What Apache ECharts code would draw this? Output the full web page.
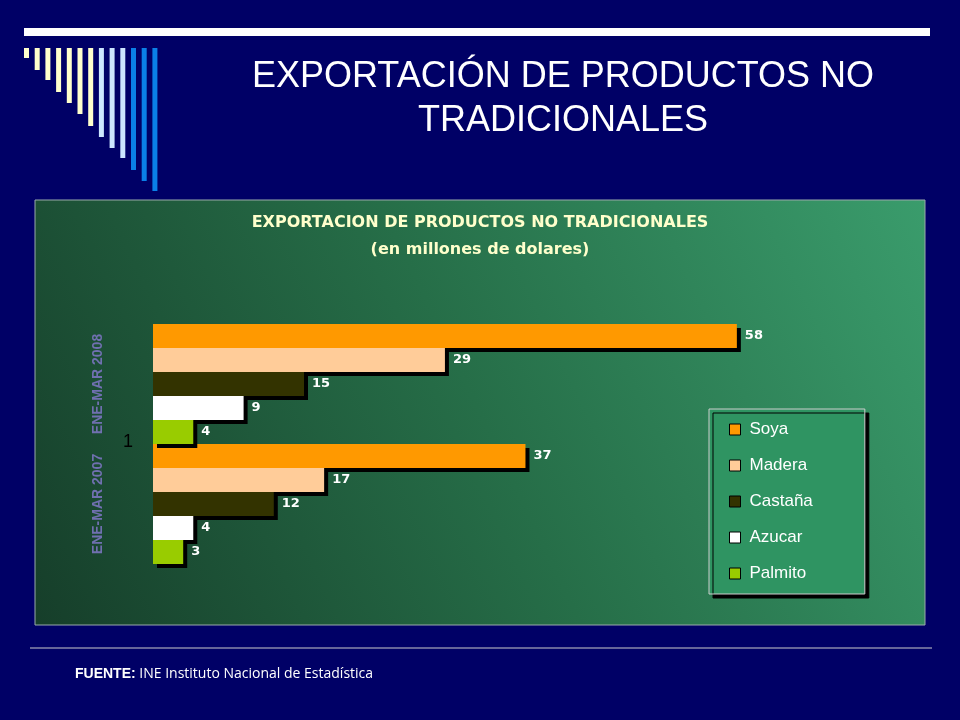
<!DOCTYPE html>
<html>
<head>
<meta charset="utf-8">
<script src="https://cdn.jsdelivr.net/npm/echarts@6/dist/echarts.min.js"></script>
<style>
  html, body { margin: 0; padding: 0; background: #000066; }
  #main { width: 960px; height: 720px; }
</style>
</head>
<body>
<div id="main"></div>
<script>
// datos (millones de dolares)
var periodos = ['ENE-MAR 2008', 'ENE-MAR 2007'];
var productos = ['Soya', 'Madera', 'Castaña', 'Azucar', 'Palmito'];
var soya = [58, 37];
var madera = [29, 17];
var castana = [15, 12];
var azucar = [9, 4];
var palmito = [4, 3];
var colores = ['#ff9900', '#ffcc99', '#333300', '#ffffff', '#99cc00'];

var valores = [soya, madera, castana, azucar, palmito];

var series = productos.map(function (p, i) {
    return {
        name: p,
        type: 'bar',
        data: valores[i],
        barGap: '0%',
        barCategoryGap: '0%',
        itemStyle: {
            color: colores[i],
            borderWidth: 0,
            shadowColor: '#000',
            shadowOffsetX: 4,
            shadowOffsetY: 4,
            shadowBlur: 0
        },
        label: {
            show: true,
            position: 'right',
            distance: 8,
            color: '#fff',
            fontWeight: 'bold',
            fontSize: 13,
            fontFamily: '"DejaVu Sans", Arial'
        }
    };
});

// barras decorativas arriba a la izquierda
var deco = [{
    type: 'rect', shape: { x: 24, y: 28, width: 906, height: 8 }, style: { fill: '#fff' }
}];
var ends = [58, 70, 80, 92, 103, 114, 126, 137, 148, 158, 170, 181, 191];
var decoColors = ['#ffffcc', '#ffffcc', '#ffffcc', '#ffffcc', '#ffffcc', '#ffffcc', '#ffffcc',
    '#cce6ff', '#cce6ff', '#cce6ff', '#0a80e8', '#0a80e8', '#0a80e8'];
for (var i = 0; i < ends.length; i++) {
    deco.push({
        type: 'rect',
        shape: { x: 24 + i * 10.7, y: 48, width: 5, height: ends[i] - 48 },
        style: { fill: decoColors[i] }
    });
}

var option = {
    backgroundColor: '#000066',
    animation: false,
    graphic: deco.concat([
        {
            type: 'rect', z: -10,
            shape: { x: 35, y: 200, width: 890, height: 425 },
            style: {
                fill: new echarts.graphic.LinearGradient(1, 0, 0, 1, [
                    { offset: 0, color: '#3a9c6c' },
                    { offset: 0.5, color: '#266e48' },
                    { offset: 1, color: '#163e2a' }
                ]),
                stroke: '#9aa', lineWidth: 1
            }
        },
        {
            type: 'text',
            style: {
                x: 563, y: 55, text: 'EXPORTACIÓN DE PRODUCTOS NO\nTRADICIONALES',
                fill: '#fff', font: '36px Arial', textAlign: 'center', lineHeight: 44
            }
        },
        {
            type: 'text',
            style: {
                x: 480, y: 215,
                text: 'EXPORTACION DE PRODUCTOS NO TRADICIONALES',
                fill: '#ffffcc', font: 'bold 16px "DejaVu Sans", Arial', textAlign: 'center'
            }
        },
        {
            type: 'text',
            style: {
                x: 480, y: 242,
                text: '(en millones de dolares)',
                fill: '#ffffcc', font: 'bold 16px "DejaVu Sans", Arial', textAlign: 'center'
            }
        },
        {
            type: 'text',
            style: { x: 123, y: 433, text: '1', fill: '#000', font: '18px Arial' }
        },
        {
            type: 'line', shape: { x1: 30, y1: 648, x2: 932, y2: 648 },
            style: { stroke: '#ccc', lineWidth: 1 }
        },
        {
            type: 'text',
            style: {
                x: 75, y: 667,
                text: '{b|FUENTE:} INE Instituto Nacional de Estadística',
                fill: '#fff', font: '14px "Open Sans", Arial',
                rich: { b: { fontWeight: 'bold', fill: '#fff', fontSize: 14 } }
            }
        }
    ]),
    legend: {
        data: productos,
        orient: 'vertical',
        left: 709, top: 409,
        padding: [12, 52, 12, 20],
        itemGap: 19,
        itemWidth: 11, itemHeight: 11,
        backgroundColor: '#2f9462',
        borderColor: '#cccccc',
        borderWidth: 1,
        shadowColor: '#000',
        shadowOffsetX: 4,
        shadowOffsetY: 4,
        shadowBlur: 0,
        textStyle: { color: '#fff', fontSize: 17, fontFamily: 'Arial', padding: [0, 0, 0, 4] },
        selectedMode: false,
        icon: 'rect',
        itemStyle: { borderColor: '#000', borderWidth: 1 }
    },
    grid: { left: 153, top: 324, width: 604, height: 240 },
    xAxis: {
        type: 'value', min: 0, max: 60,
        show: false
    },
    yAxis: {
        type: 'category',
        data: periodos,
        inverse: true,
        axisLine: { show: false },
        axisTick: { show: false },
        axisLabel: {
            interval: 0,
            rotate: 90,
            margin: 48,
            color: '#7070b0',
            fontWeight: 'bold',
            fontSize: 14,
            fontFamily: 'Arial'
        }
    },
    series: series
};

var chart = echarts.init(document.getElementById('main'));
chart.setOption(option);
</script>
</body>
</html>
